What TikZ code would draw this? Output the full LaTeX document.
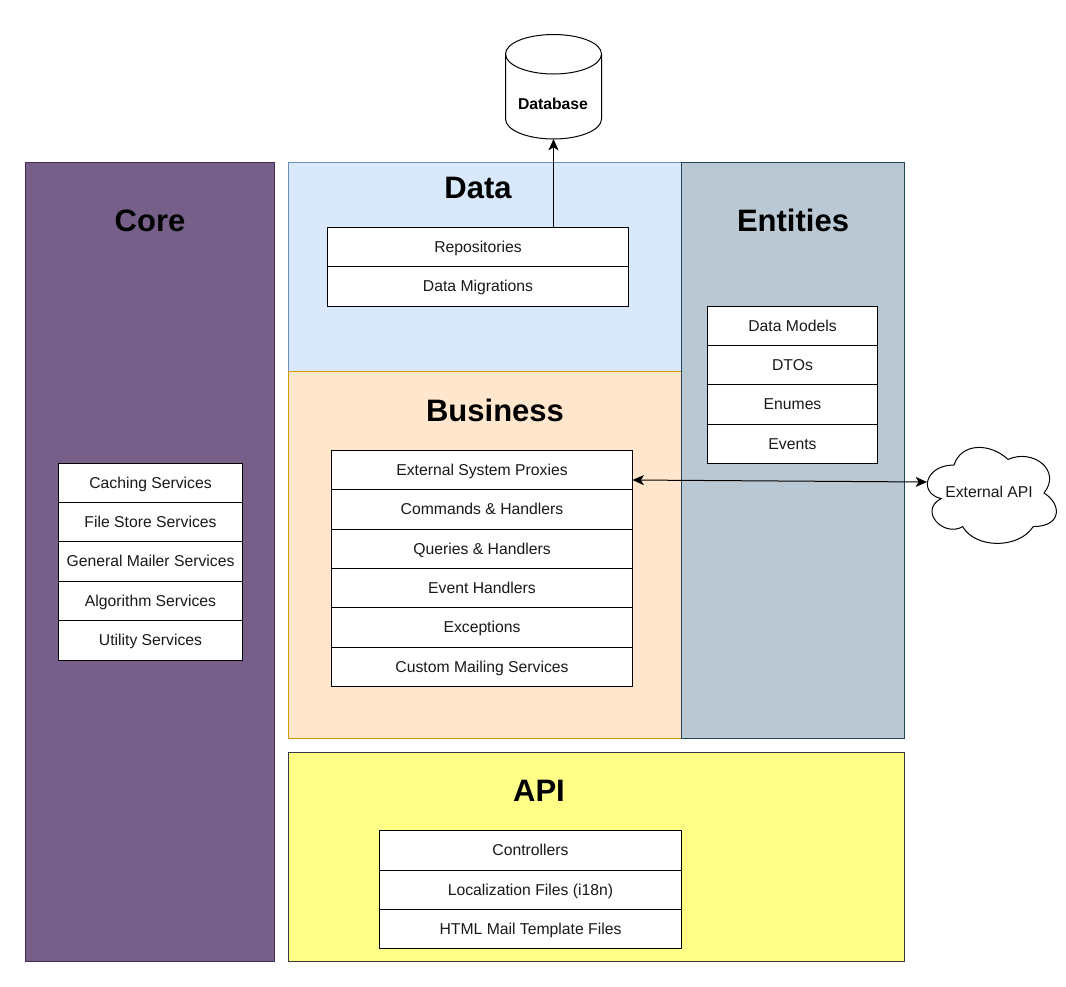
\documentclass[tikz,border=0pt]{standalone}
\usepackage{fontspec}
\setmainfont{Liberation Sans}
\usetikzlibrary{arrows.meta,calc}
\definecolor{corefill}{HTML}{76608A}\definecolor{coreline}{HTML}{432D57}
\definecolor{datafill}{HTML}{DAE8FC}\definecolor{dataline}{HTML}{6C8EBF}
\definecolor{busfill}{HTML}{FFE6CC}\definecolor{busline}{HTML}{D79B00}
\definecolor{entfill}{HTML}{BAC8D3}\definecolor{entline}{HTML}{23445D}
\definecolor{apifill}{HTML}{FFFF88}\definecolor{apiline}{HTML}{36393D}
\newcommand{\pxbox}[7][]{% style, name, x1,y1,x2,y2, text
  \node[#1,minimum width={(#5-#3)*0.75pt},minimum height={(#6-#4)*0.75pt}] (#2) at ({(#3+#5)/2},{(#4+#6)/2}) {#7};}
\tikzset{
  x=0.75pt,y=-0.75pt,
  panel/.style={draw,line width=0.75pt,inner sep=0pt,outer sep=0pt},
  rowbox/.style={draw=black,fill=white,line width=0.75pt,inner sep=0pt,outer sep=0pt,text height=9.5pt,text depth=2pt,font=\fontsize{11.8}{14}\selectfont,text=black!90},
  titlelabel/.style={font=\fontsize{23.25}{27}\selectfont\bfseries,text=black,inner sep=0pt},
  outline/.style={draw=black,line width=0.75pt,fill=white},
  link/.style={draw=black,line width=0.75pt,-{Stealth[length=8.5pt,width=7.5pt,inset=2.2pt]}},
  bilink/.style={draw=black,line width=0.75pt,{Stealth[length=8.5pt,width=7.5pt,inset=2.2pt]}-{Stealth[length=8.5pt,width=7.5pt,inset=2.2pt]}},
}
\begin{document}
\begin{tikzpicture}
\useasboundingbox (0,0) rectangle (1066,986);
% panels
\pxbox[panel,draw=coreline,fill=corefill]{core}{25.5}{162.5}{274.5}{961.5}{}
\pxbox[panel,draw=dataline,fill=datafill]{data}{288.5}{162.5}{681.5}{371.5}{}
\pxbox[panel,draw=busline,fill=busfill]{business}{288.5}{371.5}{681.5}{738.5}{}
\pxbox[panel,draw=entline,fill=entfill]{entities}{681.5}{162.5}{904.5}{738.5}{}
\pxbox[panel,draw=apiline,fill=apifill]{api}{288.5}{752.5}{904.5}{961.5}{}
% titles
\node[titlelabel] (tcore) at (150,220.5) {Core};
\node[titlelabel] (tdata) at (478,187.5) {Data};
\node[titlelabel] (tent) at (793,220.5) {Entities};
\node[titlelabel] (tbus) at (495,410.5) {Business};
\node[titlelabel] (tapi) at (539,790.5) {API};
% data rows
\pxbox[rowbox]{repo}{327.5}{227.5}{628.5}{266.5}{Repositories}
\pxbox[rowbox]{migr}{327.5}{266.5}{628.5}{306.5}{Data Migrations}
% entities rows
\pxbox[rowbox]{models}{707.5}{306.5}{877.5}{345.5}{Data Models}
\pxbox[rowbox]{dtos}{707.5}{345.5}{877.5}{384.5}{DTOs}
\pxbox[rowbox]{enums}{707.5}{384.5}{877.5}{424.5}{Enumes}
\pxbox[rowbox]{events}{707.5}{424.5}{877.5}{463.5}{Events}
% core rows
\pxbox[rowbox]{cache}{58.5}{463.5}{242.5}{502.5}{Caching Services}
\pxbox[rowbox]{fstore}{58.5}{502.5}{242.5}{541.5}{File Store Services}
\pxbox[rowbox]{mailer}{58.5}{541.5}{242.5}{581.5}{General Mailer Services}
\pxbox[rowbox]{algo}{58.5}{581.5}{242.5}{620.5}{Algorithm Services}
\pxbox[rowbox]{util}{58.5}{620.5}{242.5}{660.5}{Utility Services}
% business rows
\pxbox[rowbox]{proxy}{331.5}{450.5}{632.5}{489.5}{External System Proxies}
\pxbox[rowbox]{cmds}{331.5}{489.5}{632.5}{529.5}{Commands \& Handlers}
\pxbox[rowbox]{query}{331.5}{529.5}{632.5}{568.5}{Queries \& Handlers}
\pxbox[rowbox]{evh}{331.5}{568.5}{632.5}{607.5}{Event Handlers}
\pxbox[rowbox]{exc}{331.5}{607.5}{632.5}{647.5}{Exceptions}
\pxbox[rowbox]{cmail}{331.5}{647.5}{632.5}{686.5}{Custom Mailing Services}
% api rows
\pxbox[rowbox]{ctrl}{379.5}{830.5}{681.5}{870.5}{Controllers}
\pxbox[rowbox]{i18n}{379.5}{870.5}{681.5}{909.5}{Localization Files (i18n)}
\pxbox[rowbox]{html}{379.5}{909.5}{681.5}{948.5}{HTML Mail Template Files}
% database
\path[outline] (505.5,54) .. controls (505.5,43) and (527,34.5) .. (553.5,34.5)
  .. controls (580,34.5) and (601.5,43) .. (601.5,54) -- (601.5,119)
  .. controls (601.5,130) and (580,139) .. (553.5,139)
  .. controls (527,139) and (505.5,130) .. (505.5,119) -- cycle;
\draw[line width=0.75pt] (505.5,54) .. controls (505.5,65) and (527,74) .. (553.5,74)
  .. controls (580,74) and (601.5,65) .. (601.5,54);
\node[inner sep=0pt,font=\fontsize{11.8}{14}\selectfont\bfseries] (db) at (553,103.5) {Database};
\coordinate (dbbottom) at (553.5,139);
% cloud
\def\cx{918}\def\cy{437}\def\cw{144}\def\ch{112}
\newcommand{\cp}[2]{({\cx+#1*\cw},{\cy+#2*\ch})}
\path[outline] \cp{.25}{.25} .. controls \cp{.05}{.25} and \cp{0}{.5} .. \cp{.16}{.55}
  .. controls \cp{0}{.66} and \cp{.18}{.9} .. \cp{.31}{.8}
  .. controls \cp{.4}{1} and \cp{.7}{1} .. \cp{.8}{.8}
  .. controls \cp{1}{.8} and \cp{1}{.6} .. \cp{.875}{.5}
  .. controls \cp{1}{.3} and \cp{.8}{.1} .. \cp{.625}{.2}
  .. controls \cp{.5}{.05} and \cp{.3}{.05} .. \cp{.25}{.25} -- cycle;
\node[inner sep=0pt,font=\fontsize{11.8}{14}\selectfont,text=black!90] (extapi) at (989,492) {External API};
\coordinate (cloudleft) at (927,482);
% connectors
\draw[link] (repo.north -| dbbottom) -- (dbbottom);
\draw[bilink] ([yshift=-7.5pt]proxy.east) -- (cloudleft);
\end{tikzpicture}
\end{document}
